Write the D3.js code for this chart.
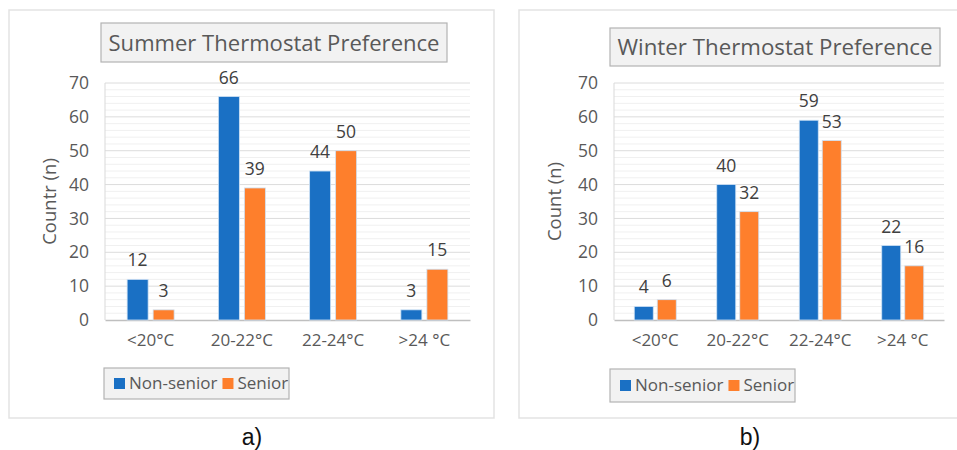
<!DOCTYPE html>
<html><head><meta charset="utf-8">
<script src="https://cdn.jsdelivr.net/npm/d3@7"></script>
<style>body{margin:0;background:#fff;} svg{display:block;}</style>
</head><body>
<svg id="c" width="957" height="450"></svg>
<script>
const categories = ["<20°C", "20-22°C", "22-24°C", ">24 °C"];
const seriesNames = ["Non-senior", "Senior"];
const summerNonSenior = [12, 66, 44, 3];
const summerSenior = [3, 39, 50, 15];
const winterNonSenior = [4, 40, 59, 22];
const winterSenior = [6, 32, 53, 16];
const yTicks = [0, 10, 20, 30, 40, 50, 60, 70];
const colors = ["#1a70c4", "#fe7f2c"];
const FONT = "'Open Sans', 'Noto Sans', sans-serif";
const TXT = "#595959";

const svg = d3.select("#c");

function panel(cfg) {
  const g = svg.append("g");
  g.append("rect").attr("x", cfg.frame[0]).attr("y", cfg.frame[1])
    .attr("width", cfg.frame[2]).attr("height", cfg.frame[3])
    .attr("fill", "#fff").attr("stroke", "#e3e3e3").attr("stroke-width", 1.5);

  const x = d3.scaleBand().domain(categories).range([cfg.plot[0], cfg.plot[1]]);
  const y = d3.scaleLinear().domain([0, 70]).range([cfg.plot[3], cfg.plot[2]]);

  const minor = d3.range(0, 71, 2).filter(v => v % 10 !== 0);
  g.append("g").selectAll("line").data(minor).join("line")
    .attr("x1", cfg.plot[0]).attr("x2", cfg.plot[1])
    .attr("y1", d => y(d)).attr("y2", d => y(d))
    .attr("stroke", "#f0f0f0").attr("stroke-width", 1);
  g.append("g").selectAll("line").data(yTicks.filter(v => v > 0)).join("line")
    .attr("x1", cfg.plot[0]).attr("x2", cfg.plot[1])
    .attr("y1", d => y(d)).attr("y2", d => y(d))
    .attr("stroke", "#dcdcdc").attr("stroke-width", 1);
  g.append("line").attr("x1", cfg.plot[0]).attr("x2", cfg.plot[0])
    .attr("y1", y(70)).attr("y2", y(0)).attr("stroke", "#d9d9d9");

  const ya = g.append("g").attr("transform", `translate(${cfg.plot[0]},0)`)
    .call(d3.axisLeft(y).tickValues(yTicks).tickSize(0).tickPadding(cfg.tickPad));
  ya.select(".domain").remove();
  ya.selectAll("text").attr("font-family", FONT).attr("font-size", 17.5).attr("fill", TXT);

  const xa = g.append("g").attr("transform", `translate(0,${y(0)})`)
    .call(d3.axisBottom(x).tickSize(0).tickPadding(14));
  xa.select(".domain").attr("stroke", "#bfbfbf").attr("stroke-width", 1.5);
  xa.selectAll("text").attr("font-family", FONT).attr("font-size", 17).attr("fill", TXT);

  const data = [cfg.a, cfg.b];
  const bw = cfg.barW, gap = cfg.gap;
  data.forEach((vals, si) => {
    const off = si === 0 ? -gap / 2 - bw : gap / 2;
    g.append("g").selectAll("rect").data(vals).join("rect")
      .attr("x", (d, i) => x(categories[i]) + x.bandwidth() / 2 + off)
      .attr("y", d => y(d)).attr("width", bw).attr("height", d => y(0) - y(d))
      .attr("fill", colors[si]).attr("stroke", "#cfe2f5").attr("stroke-width", 0.8);
    g.append("g").selectAll("text").data(vals).join("text")
      .attr("x", (d, i) => x(categories[i]) + x.bandwidth() / 2 + off + bw / 2)
      .attr("y", d => y(d) - 13)
      .attr("text-anchor", "middle").attr("font-family", FONT).attr("font-size", 17.5)
      .attr("fill", "#404040").text(d => d);
  });

  g.append("text").attr("transform", `translate(${cfg.yTitleX},${(y(0) + y(70)) / 2}) rotate(-90)`)
    .attr("text-anchor", "middle").attr("dy", "0.35em")
    .attr("font-family", FONT).attr("font-size", 18.5).attr("fill", TXT).text(cfg.yTitle);

  const tb = cfg.titleBox;
  g.append("rect").attr("x", tb[0]).attr("y", tb[1]).attr("width", tb[2]).attr("height", tb[3])
    .attr("fill", "#f2f2f2").attr("stroke", "#b3b3b3").attr("stroke-width", 1.2);
  g.append("text").attr("x", tb[0] + tb[2] / 2).attr("y", tb[1] + tb[3] / 2)
    .attr("dy", "0.36em").attr("text-anchor", "middle")
    .attr("font-family", FONT).attr("font-size", 22.5).attr("fill", TXT)
    .attr("textLength", cfg.titleLen).attr("lengthAdjust", "spacingAndGlyphs")
    .text(cfg.title);

  const lb = cfg.legend;
  g.append("rect").attr("x", lb[0]).attr("y", lb[1]).attr("width", lb[2]).attr("height", lb[3])
    .attr("fill", "#f2f2f2").attr("stroke", "#b3b3b3").attr("stroke-width", 1.2);
  const cy = lb[1] + lb[3] / 2;
  let lx = lb[0] + 10;
  seriesNames.forEach((n, i) => {
    g.append("rect").attr("x", lx).attr("y", cy - 5.5).attr("width", 11).attr("height", 11).attr("fill", colors[i]);
    const t = g.append("text").attr("x", lx + 15).attr("y", cy).attr("dy", "0.35em")
      .attr("font-family", FONT).attr("font-size", 17).attr("fill", TXT).text(n);
    lx += 15 + t.node().getComputedTextLength() + 5;
  });

  g.append("text").attr("x", cfg.caption[0]).attr("y", cfg.caption[1])
    .attr("text-anchor", "middle").attr("font-family", "'Liberation Sans', Arial, sans-serif")
    .attr("font-size", 23).attr("fill", "#111").text(cfg.captionText);
}

panel({
  frame: [9, 10, 485, 408],
  plot: [105, 470, 83, 320],
  a: summerNonSenior, b: summerSenior,
  barW: 21, gap: 5, tickPad: 16,
  yTitle: "Countr (n)", yTitleX: 50,
  titleBox: [101, 23, 346, 39], title: "Summer Thermostat Preference", titleLen: 331,
  legend: [104, 368, 185, 31],
  caption: [252, 445], captionText: "a)"
});
panel({
  frame: [519, 10, 460, 408],
  plot: [614, 944, 83, 320],
  a: winterNonSenior, b: winterSenior,
  barW: 19, gap: 4, tickPad: 16,
  yTitle: "Count (n)", yTitleX: 555,
  titleBox: [610, 28, 330, 38], title: "Winter Thermostat Preference", titleLen: 315,
  legend: [610, 369, 185, 33],
  caption: [750, 445], captionText: "b)"
});
</script>
</body></html>
